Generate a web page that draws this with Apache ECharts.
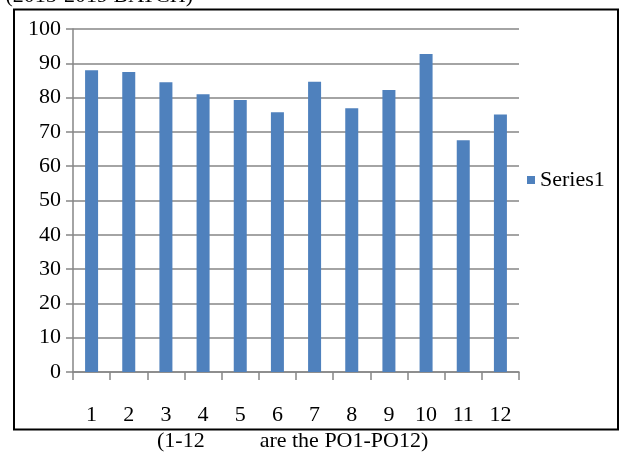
<!DOCTYPE html>
<html>
<head>
<meta charset="utf-8">
<script src="https://cdn.jsdelivr.net/npm/echarts@6/dist/echarts.min.js"></script>
<style>html,body{margin:0;padding:0;background:#fff;}#c{width:622px;height:456px;}</style>
</head>
<body>
<div id="c"></div>
<script>
var categories = ['1','2','3','4','5','6','7','8','9','10','11','12'];
var series1 = [88.0, 87.5, 84.5, 81.0, 79.3, 75.7, 84.6, 76.9, 82.2, 92.7, 67.6, 75.1];
var yMin = 0, yMax = 100, yStep = 10;
var seriesName = 'Series1';
var captionText = '(1-12          are the PO1-PO12)';
var topText = '(2015-2019 BATCH)';

var FONT = '"Liberation Serif","Times New Roman",serif';
var chart = echarts.init(document.getElementById('c'), null, {renderer:'canvas'});
chart.setOption({
  animation: false,
  backgroundColor: '#fff',
  grid: {left: 73, top: 29, right: 103, bottom: 84, containLabel: false},
  legend: {
    data: [seriesName], left: 522, top: 164, icon: 'rect', itemWidth: 8, itemHeight: 8, itemGap: 4,
    textStyle: {fontFamily: FONT, fontSize: 22, color: '#000'}
  },
  xAxis: {
    type: 'category', data: categories, boundaryGap: true,
    axisLine: {lineStyle: {color: '#868686', width: 1.5}},
    axisTick: {show: true, length: 8, alignWithLabel: false, lineStyle: {color: '#868686', width: 1.5}},
    axisLabel: {margin: 32, fontFamily: FONT, fontSize: 22, color: '#000', interval: 0},
    splitLine: {show: false}
  },
  yAxis: {
    type: 'value', min: yMin, max: yMax, interval: yStep,
    axisLine: {show: true, lineStyle: {color: '#868686', width: 1.5}},
    axisTick: {show: true, length: 7, inside: false, lineStyle: {color: '#868686', width: 1.5}},
    axisLabel: {margin: 12, fontFamily: FONT, fontSize: 22, color: '#000'},
    splitLine: {show: true, lineStyle: {color: '#868686', width: 1.5}}
  },
  series: [{
    name: seriesName, type: 'bar', data: series1, barWidth: 13,
    itemStyle: {color: '#4F81BD'}
  }],
  graphic: [
    {type: 'rect', shape: {x: 14, y: 9.5, width: 604, height: 420}, style: {fill: 'none', stroke: '#000', lineWidth: 2}, z: 100},
    {type: 'text', left: 157, top: 430, style: {text: captionText, font: '22px ' + FONT, fill: '#000'}},
    {type: 'text', x: 193, y: 7, style: {text: topText, font: '22px ' + FONT, fill: '#000', textAlign: 'right', textVerticalAlign: 'bottom'}}
  ]
});
</script>
</body>
</html>
